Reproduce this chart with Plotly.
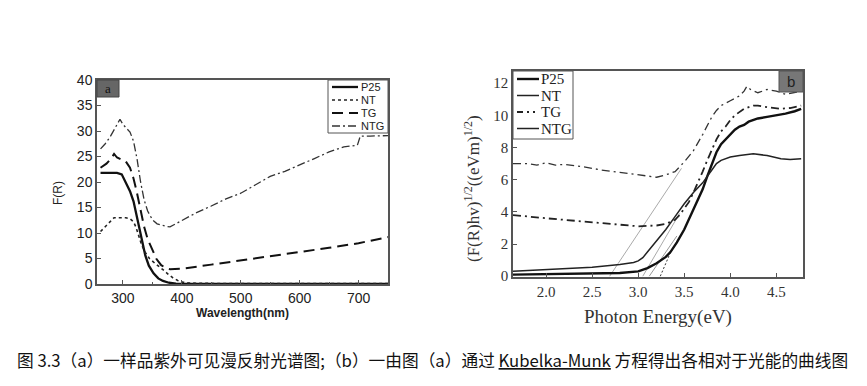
import plotly.graph_objects as go

# ---------- panel (a): UV-vis diffuse reflectance ----------
wl_p25 = [262, 275, 290, 298, 305, 312, 318, 324, 329, 333, 338, 344, 352, 360, 368, 378, 390, 405, 450, 550, 650, 750]
fr_p25 = [21.8, 21.8, 21.8, 21.5, 20.0, 18.2, 16.2, 13.0, 10.5, 8.0, 5.6, 3.6, 2.1, 1.1, 0.6, 0.25, 0.08, 0.02, 0.0, 0.0, 0.0, 0.0]

wl_nt = [262, 270, 278, 285, 295, 305, 312, 318, 322, 327, 332, 338, 345, 352, 360, 368, 377, 385, 393, 402, 412, 430, 500, 600, 700, 750]
fr_nt = [10.3, 11.3, 12.3, 13.0, 13.0, 13.0, 12.8, 12.2, 11.2, 9.2, 7.6, 6.2, 5.0, 4.3, 3.6, 2.8, 1.9, 1.2, 0.7, 0.35, 0.2, 0.12, 0.1, 0.1, 0.1, 0.1]

wl_tg = [262, 272, 280, 285, 290, 297, 305, 312, 318, 324, 330, 336, 342, 350, 357, 365, 372, 380, 400, 450, 500, 550, 600, 650, 700, 750]
fr_tg = [22.8, 23.6, 24.6, 25.5, 24.8, 24.4, 24.0, 22.8, 20.7, 17.8, 14.2, 11.2, 8.8, 6.6, 4.9, 3.7, 3.2, 2.9, 3.0, 3.8, 4.6, 5.4, 6.3, 7.1, 8.0, 9.2]

wl_ntg = [262, 270, 278, 285, 291, 295, 300, 306, 312, 318, 324, 330, 336, 342, 350, 358, 366, 374, 380, 390, 400, 425, 450, 475, 500, 525, 550, 575, 600, 625, 650, 675, 698, 703, 720, 750]
fr_ntg = [26.5, 27.5, 28.8, 30.2, 31.5, 32.3, 31.3, 30.5, 29.8, 28.0, 24.5, 20.0, 16.5, 14.3, 12.6, 11.8, 11.5, 11.3, 11.2, 11.8, 12.5, 14.0, 15.3, 16.7, 17.8, 19.5, 21.1, 22.1, 23.3, 24.6, 25.9, 26.9, 27.2, 29.0, 29.0, 29.1]

# ---------- panel (b): Kubelka-Munk transformed ----------
ev_p25 = [1.64, 2.0, 2.5, 2.8, 3.0, 3.1, 3.2, 3.3, 3.35, 3.42, 3.5, 3.6, 3.7, 3.75, 3.8, 3.85, 3.9, 3.95, 4.0, 4.05, 4.1, 4.15, 4.2, 4.3, 4.4, 4.5, 4.6, 4.7, 4.77]
y_p25 = [0.1, 0.12, 0.15, 0.2, 0.3, 0.5, 0.8, 1.2, 1.5, 2.1, 2.9, 4.1, 5.4, 6.2, 7.0, 7.7, 8.2, 8.5, 8.8, 9.1, 9.3, 9.4, 9.6, 9.8, 9.9, 10.0, 10.1, 10.25, 10.4]

ev_nt = [1.64, 2.0, 2.5, 2.8, 2.95, 3.0, 3.05, 3.1, 3.2, 3.3, 3.4, 3.5, 3.6, 3.7, 3.8, 3.85, 3.9, 4.0, 4.1, 4.25, 4.4, 4.55, 4.65, 4.77]
y_nt = [0.3, 0.4, 0.55, 0.72, 0.85, 0.95, 1.15, 1.5, 2.2, 2.9, 3.7, 4.5, 5.2, 5.8, 6.6, 7.0, 7.2, 7.4, 7.5, 7.6, 7.5, 7.3, 7.25, 7.3]

ev_tg = [1.64, 1.8, 2.0, 2.2, 2.5, 2.8, 3.0, 3.2, 3.3, 3.4, 3.45, 3.5, 3.55, 3.6, 3.65, 3.7, 3.75, 3.8, 3.85, 3.9, 3.95, 4.0, 4.05, 4.15, 4.25, 4.3, 4.4, 4.55, 4.65, 4.77]
y_tg = [3.8, 3.7, 3.6, 3.5, 3.35, 3.2, 3.1, 3.15, 3.25, 3.5, 3.8, 4.2, 4.6, 5.2, 5.8, 6.5, 7.2, 7.9, 8.5, 9.0, 9.3, 9.7, 10.0, 10.4, 10.6, 10.6, 10.5, 10.4, 10.45, 10.6]

ev_ntg = [1.64, 1.8, 1.9, 2.0, 2.1, 2.2, 2.4, 2.6, 2.8, 3.0, 3.1, 3.2, 3.3, 3.4, 3.5, 3.6, 3.7, 3.8, 3.85, 3.9, 4.0, 4.1, 4.15, 4.18, 4.22, 4.3, 4.4, 4.5, 4.6, 4.7, 4.77]
y_ntg = [7.0, 7.0, 6.9, 7.05, 6.9, 6.95, 6.8, 6.6, 6.45, 6.3, 6.2, 6.15, 6.3, 6.5, 7.1, 7.8, 8.8, 9.9, 10.3, 10.6, 10.9, 11.2, 11.5, 11.8, 11.6, 11.4, 11.6, 11.5, 11.3, 11.4, 11.5]

# tangent (band-gap extrapolation) lines
tan1_x = [2.69, 3.47]
tan1_y = [0.0, 6.7]
tan2_x = [3.05, 3.45]
tan2_y = [0.0, 3.9]
tan3_x = [3.12, 3.42]
tan3_y = [0.0, 2.5]
tan4_x = [3.24, 3.36]
tan4_y = [0.0, 1.6]

names = ["P25", "NT", "TG", "NTG"]

# The page body has an 8 px margin: the figure is drawn 8 px right/down of the window corner.
OFF = 8
Wf, Hf = 851, 370


def PX(s):   # window x pixel -> paper fraction
    return (s - OFF) / Wf


def PY(s):   # window y pixel (from top) -> paper fraction
    return 1 - (s - OFF) / Hf


ax_a = (PX(97), PX(388))
ay_a = (PY(284), PY(80))
ax_b = (PX(513), PX(803))
ay_b = (PY(277), PY(71))
wa, ha = 291, 204   # panel a size in px
wb, hb = 290, 206   # panel b size in px

sans = "Liberation Sans, Arial, sans-serif"
serif = "Liberation Serif, Times New Roman, serif"
frame = "#555"

style_a = [dict(color="#111", width=2.3), dict(color="#222", width=1.6, dash="3px,3px"),
           dict(color="#111", width=2.0, dash="11px,6px"), dict(color="#333", width=1.3, dash="8px,3px,2px,3px")]
style_b = [dict(color="#111", width=2.4), dict(color="#222", width=1.5),
           dict(color="#222", width=1.8, dash="8px,4px,2px,4px"), dict(color="#333", width=1.3, dash="8px,4px,2px,4px")]
legend_b_style = [style_b[0], style_b[1], dict(color="#222", width=1.8, dash="6px,4px,2px,4px,2px,4px"),
                  dict(color="#222", width=1.5)]

fig = go.Figure()

# panel a traces
for xs, ys, nm, st in zip([wl_p25, wl_nt, wl_tg, wl_ntg], [fr_p25, fr_nt, fr_tg, fr_ntg], names, style_a):
    fig.add_trace(go.Scatter(x=xs, y=ys, name=nm, mode="lines", line=st, showlegend=False,
                             xaxis="x", yaxis="y"))

# panel b tangent lines
for tx, ty, col, ds in [(tan1_x, tan1_y, "#aaa", "solid"), (tan2_x, tan2_y, "#aaa", "solid"),
                        (tan3_x, tan3_y, "#999", "solid"), (tan4_x, tan4_y, "#333", "2px,2px")]:
    fig.add_trace(go.Scatter(x=tx, y=ty, mode="lines", showlegend=False, hoverinfo="skip",
                             line=dict(color=col, width=1, dash=ds), xaxis="x2", yaxis="y2"))

# panel b traces
for xs, ys, nm, st in zip([ev_p25, ev_nt, ev_tg, ev_ntg], [y_p25, y_nt, y_tg, y_ntg], names, style_b):
    fig.add_trace(go.Scatter(x=xs, y=ys, name=nm, mode="lines", line=st, showlegend=False,
                             xaxis="x2", yaxis="y2"))

axis_common = dict(ticks="inside", ticklen=4, tickcolor=frame, showgrid=False, zeroline=False,
                   showline=True, linecolor=frame, linewidth=1.5, mirror=True, automargin=False)

fig.update_layout(
    width=Wf, height=Hf,
    margin=dict(l=0, r=0, t=0, b=0, pad=0, autoexpand=False),
    paper_bgcolor="white", plot_bgcolor="white",
    showlegend=False,
    xaxis=dict(domain=list(ax_a), range=[256, 750], tickvals=[300, 400, 500, 600, 700],
               minor=dict(tickvals=[350, 450, 550, 650], ticks="inside", ticklen=2, tickcolor=frame),
               tickfont=dict(family=sans, size=14, color="#222"), anchor="y", **axis_common),
    yaxis=dict(domain=list(ay_a), range=[0, 40], dtick=5,
               tickfont=dict(family=sans, size=14, color="#222"), anchor="x", **axis_common),
    xaxis2=dict(domain=list(ax_b), range=[1.64, 4.79], dtick=0.5, tick0=2.0, tickformat=".1f",
                tickfont=dict(family=serif, size=15, color="#333"), anchor="y2", **axis_common),
    yaxis2=dict(domain=list(ay_b), range=[-0.05, 12.75], dtick=2,
                tickfont=dict(family=serif, size=15, color="#333"), anchor="x2", **axis_common),
)


def ann(xref, yref, x, y, text, font, **kw):
    fig.add_annotation(xref=xref, yref=yref, x=x, y=y, text=text, showarrow=False,
                       xanchor=kw.pop("xanchor", "center"), yanchor=kw.pop("yanchor", "middle"),
                       font=font, **kw)


# ---- manual legend, panel a (top-right box) ----
lx0, lx1, ly_top, ly_bot = 231, 291, 0, 53   # px inside panel a (from left / from top)
fig.add_shape(type="rect", xref="x domain", yref="y domain", x0=lx0 / wa, x1=lx1 / wa,
              y0=1 - ly_bot / ha, y1=1 - ly_top / ha, fillcolor="white", line=dict(color="#555", width=1))
for i, (nm, st) in enumerate(zip(names, style_a)):
    yy = 1 - (7 + 13 * i) / ha
    fig.add_shape(type="line", xref="x domain", yref="y domain", x0=(lx0 + 4) / wa, x1=(lx0 + 30) / wa,
                  y0=yy, y1=yy, line=st)
    ann("x domain", "y domain", (lx0 + 31) / wa, yy, nm, dict(family=sans, size=11, color="#222"),
        xanchor="left")

# ---- manual legend, panel b (top-left box) ----
bx0, bx1, by_bot = 0, 60, 68
fig.add_shape(type="rect", xref="x2 domain", yref="y2 domain", x0=bx0 / wb, x1=bx1 / wb,
              y0=1 - by_bot / hb, y1=1, fillcolor="white", line=dict(color="#555", width=1))
for i, (nm, st) in enumerate(zip(names, legend_b_style)):
    yy = 1 - (8 + 16.5 * i) / hb
    fig.add_shape(type="line", xref="x2 domain", yref="y2 domain", x0=4 / wb, x1=26 / wb,
                  y0=yy, y1=yy, line=st)
    ann("x2 domain", "y2 domain", 26 / wb, yy, nm, dict(family=serif, size=15, color="#222"),
        xanchor="left")

# panel tags
fig.add_shape(type="rect", xref="x domain", yref="y domain", x0=0, x1=22 / wa, y0=1 - 17 / ha, y1=1,
              fillcolor="#666", line=dict(color="#444", width=1))
ann("x domain", "y domain", 11 / wa, 1 - 8.5 / ha, "a", dict(family=serif, size=13, color="#111"))
fig.add_shape(type="rect", xref="x2 domain", yref="y2 domain", x0=1 - 24 / wb, x1=1, y0=1 - 21 / hb, y1=1,
              fillcolor="#777", line=dict(color="#555", width=1))
ann("x2 domain", "y2 domain", 1 - 12 / wb, 1 - 10.5 / hb, "b", dict(family=sans, size=15, color="#222"))

# axis titles
ann("paper", "paper", PX(242), PY(313), "<b>Wavelength(nm)</b>", dict(family=sans, size=12, color="#222"))
ann("paper", "paper", PX(58), PY(193), "F(R)", dict(family=sans, size=12, color="#222"), textangle=-90)
ann("paper", "paper", PX(658), PY(317), "Photon Energy(eV)", dict(family=serif, size=19, color="#333"))
ann("paper", "paper", PX(472), PY(188), "(F(R)hv)<sup>1/2</sup>((eVm)<sup>1/2</sup>)",
    dict(family=serif, size=17, color="#333"), textangle=-90)

# caption (Kubelka-Munk carries a red spell-check squiggle in the source)
ann("paper", "paper", PX(15), PY(360),
    "图 3.3（a）一样品紫外可见漫反射光谱图;（b）一由图（a）通过 "
    "<span style=\"text-decoration-line: underline; text-decoration-style: wavy; "
    "text-decoration-color: #d00000;\">Kubelka-Munk</span>"
    " 方程得出各相对于光能的曲线图",
    dict(family="Noto Sans CJK SC, sans-serif", size=16.7, color="#111"), xanchor="left")

fig.write_html("out.html")
